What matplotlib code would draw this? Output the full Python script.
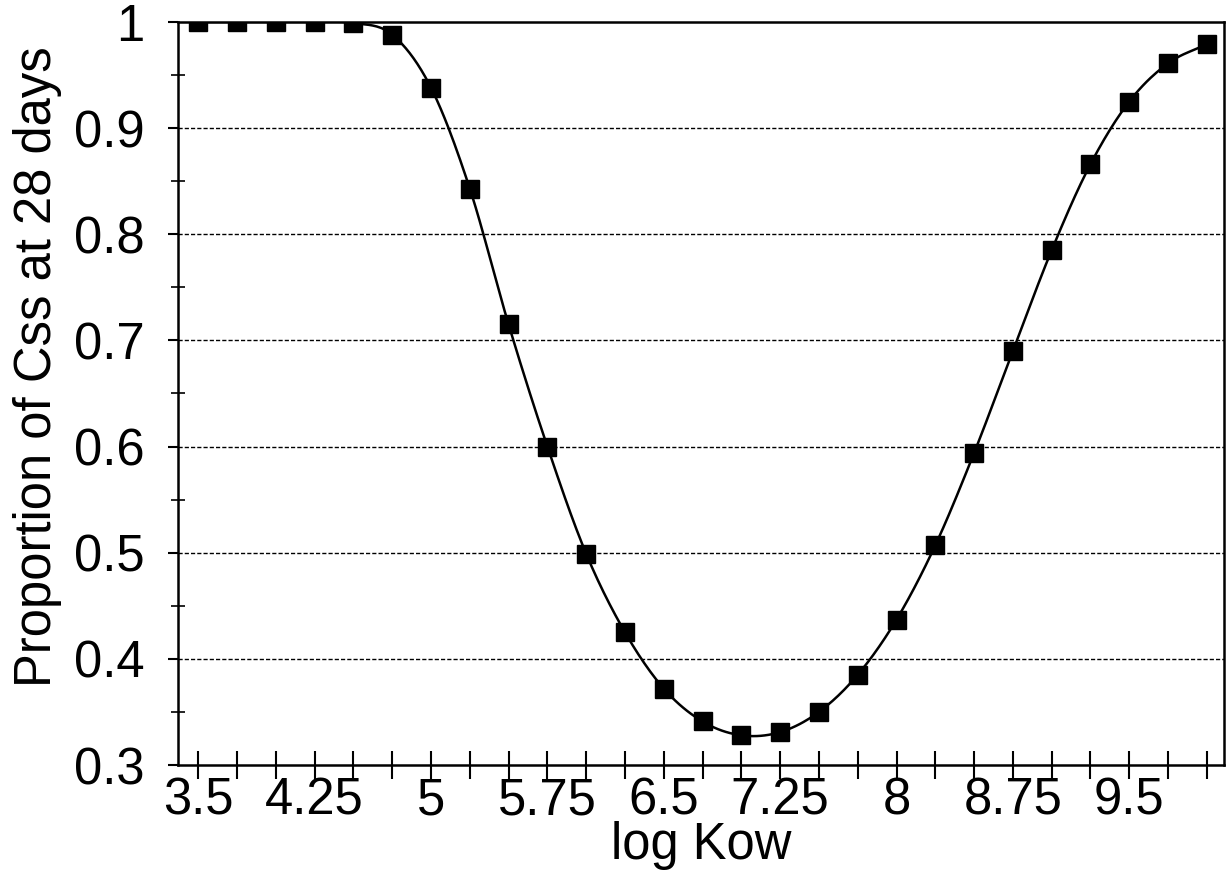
import numpy as np
import matplotlib.pyplot as plt
from matplotlib.ticker import MultipleLocator, FixedLocator

plt.rcParams['font.family'] = ['Liberation Sans', 'DejaVu Sans']

log_kow = [3.5, 3.75, 4.0, 4.25, 4.5, 4.75, 5.0, 5.25, 5.5, 5.75, 6.0, 6.25, 6.5, 6.75,
           7.0, 7.25, 7.5, 7.75, 8.0, 8.25, 8.5, 8.75, 9.0, 9.25, 9.5, 9.75, 10.0]
proportion = [1.0, 1.0, 1.0, 1.0, 0.999, 0.988, 0.938, 0.843, 0.715, 0.600, 0.499, 0.425,
              0.372, 0.341, 0.328, 0.331, 0.350, 0.385, 0.437, 0.507, 0.594, 0.690,
              0.785, 0.866, 0.925, 0.961, 0.979]
tick_labels = ['3.5', '4.25', '5', '5.75', '6.5', '7.25', '8', '8.75', '9.5']
grid_levels = [0.4, 0.5, 0.6, 0.7, 0.8, 0.9]


def smooth(x, y, n=20):
    # catmull-rom through the points, like the spreadsheet "smoothed line"
    x = np.asarray(x, float)
    y = np.asarray(y, float)
    px = np.concatenate([[2 * x[0] - x[1]], x, [2 * x[-1] - x[-2]]])
    py = np.concatenate([[2 * y[0] - y[1]], y, [2 * y[-1] - y[-2]]])
    t = np.linspace(0, 1, n, endpoint=False)[:, None]
    outx, outy = [], []
    for i in range(1, len(px) - 2):
        for p, out in ((px, outx), (py, outy)):
            p0, p1, p2, p3 = p[i - 1], p[i], p[i + 1], p[i + 2]
            v = 0.5 * ((2 * p1) + (-p0 + p2) * t + (2 * p0 - 5 * p1 + 4 * p2 - p3) * t ** 2
                       + (-p0 + 3 * p1 - 3 * p2 + p3) * t ** 3)
            out.extend(v.ravel())
    outx.append(x[-1])
    outy.append(y[-1])
    return np.array(outx), np.array(outy)


fig = plt.figure(figsize=(12.28, 8.76), dpi=100)
ax = fig.add_axes([0.145, 0.1267, 0.8517, 0.8483])

sx, sy = smooth(log_kow, proportion)
ax.plot(sx, sy, color='black', lw=1.8, zorder=3)
ax.plot(log_kow, proportion, ls='none', marker='s', ms=13.5, color='black', zorder=4)

ax.set_xlim(3.37, 10.11)
ax.set_ylim(0.3, 1.0)

# a tick on every point, a label on every third
ax.xaxis.set_major_locator(FixedLocator(log_kow))
ax.set_xticklabels([tick_labels[i // 3] if i % 3 == 0 else '' for i in range(len(log_kow))])
ax.yaxis.set_major_locator(MultipleLocator(0.1))
ax.yaxis.set_minor_locator(MultipleLocator(0.05))
ax.yaxis.set_major_formatter(plt.FuncFormatter(lambda v, p: f'{v:g}'))

fs = 36.5
ax.tick_params(axis='x', direction='inout', length=20, width=1.5, labelsize=fs, pad=-2)
ax.tick_params(axis='y', which='major', direction='out', length=7, width=1.5, labelsize=fs, pad=17)
ax.tick_params(axis='y', which='minor', direction='inout', length=10, width=1.2)

for yv in grid_levels:
    ax.axhline(yv, color='black', lw=1, ls=(0, (3, 1.5)), zorder=1)

for s in ax.spines.values():
    s.set_linewidth(1.8)

ax.set_xlabel('log Kow', fontsize=fs, labelpad=-3)
ax.set_ylabel('Proportion of Css at 28 days', fontsize=fs)
ax.yaxis.set_label_coords(-0.111, 0.536)

fig.savefig('out.png', dpi=100)
